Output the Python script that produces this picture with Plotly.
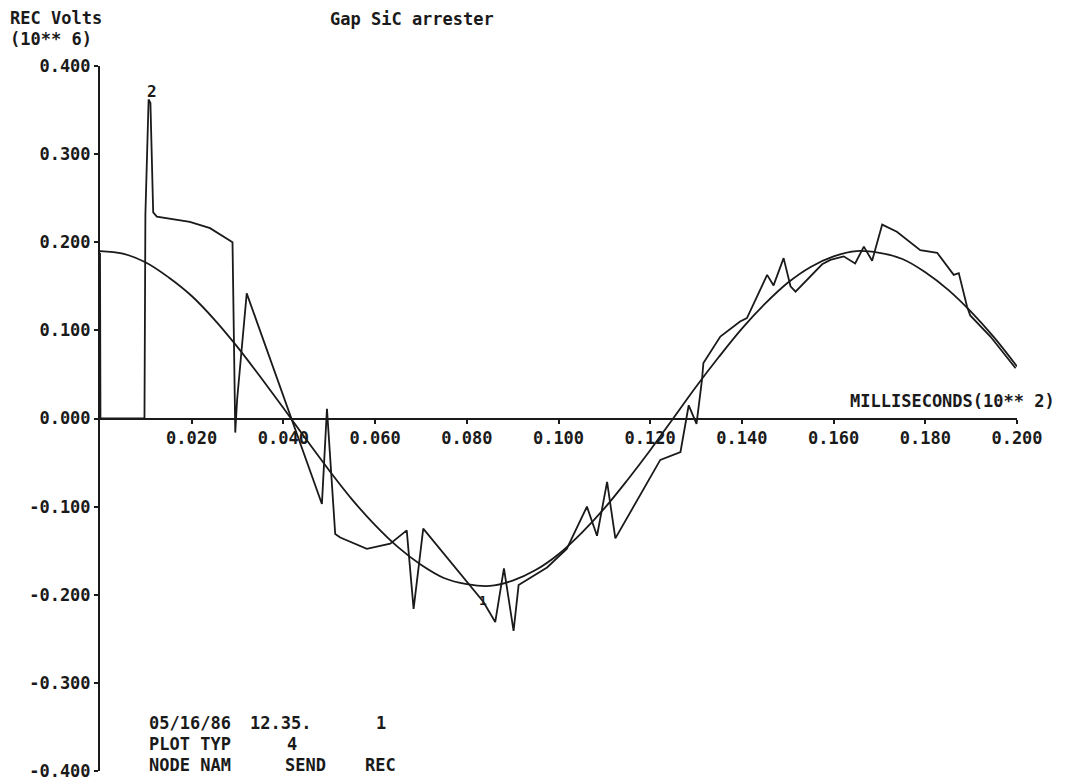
import plotly.graph_objects as go

# ---- data (time in ms x 10^2, volts x 10^6) ----
t_smooth = [0.000, 0.005, 0.010, 0.015, 0.020, 0.025, 0.030, 0.035, 0.040, 0.045,
            0.050, 0.055, 0.060, 0.065, 0.070, 0.075, 0.080, 0.085, 0.090, 0.095,
            0.100, 0.105, 0.110, 0.115, 0.120, 0.125, 0.130, 0.135, 0.140, 0.145,
            0.150, 0.155, 0.160, 0.165, 0.170, 0.175, 0.180, 0.185, 0.190, 0.195,
            0.200]
v_smooth = [0.190, 0.187, 0.177, 0.160, 0.139, 0.112, 0.081, 0.047, 0.012, -0.024,
            -0.059, -0.092, -0.121, -0.146, -0.166, -0.181, -0.188, -0.190, -0.184, -0.172,
            -0.154, -0.130, -0.102, -0.070, -0.036, 0.000, 0.036, 0.070, 0.102, 0.130,
            0.154, 0.172, 0.184, 0.190, 0.188, 0.181, 0.166, 0.146, 0.121, 0.092,
            0.059]

t_rec = [0.0000, 0.0001, 0.0097, 0.0099, 0.0106, 0.0110, 0.0116, 0.0124, 0.0196, 0.0240,
         0.0289, 0.0295, 0.0299, 0.0320, 0.0484, 0.0495, 0.0513, 0.0524, 0.0582, 0.0633,
         0.0669, 0.0684, 0.0705, 0.0836, 0.0862, 0.0881, 0.0902, 0.0913, 0.0975, 0.1018,
         0.1062, 0.1084, 0.1106, 0.1124, 0.1222, 0.1266, 0.1284, 0.1301, 0.1313, 0.1316,
         0.1353, 0.1396, 0.1411, 0.1455, 0.1469, 0.1491, 0.1506, 0.1517, 0.1575, 0.1593,
         0.1622, 0.1647, 0.1666, 0.1684, 0.1706, 0.1738, 0.1789, 0.1826, 0.1862, 0.1873,
         0.1891, 0.1898, 0.1942, 0.1997]
v_rec = [0.188, 0.000, 0.000, 0.231, 0.362, 0.358, 0.234, 0.229, 0.223, 0.216,
         0.200, -0.016, 0.021, 0.142, -0.097, 0.011, -0.131, -0.135, -0.148, -0.142,
         -0.127, -0.216, -0.125, -0.208, -0.231, -0.170, -0.241, -0.189, -0.169, -0.148,
         -0.100, -0.133, -0.072, -0.136, -0.047, -0.038, 0.015, -0.006, 0.044, 0.063,
         0.093, 0.110, 0.114, 0.163, 0.151, 0.182, 0.150, 0.144, 0.175, 0.180,
         0.184, 0.176, 0.195, 0.179, 0.220, 0.212, 0.191, 0.188, 0.163, 0.165,
         0.127, 0.117, 0.093, 0.057]

x_tick_vals = [0.02, 0.04, 0.06, 0.08, 0.10, 0.12, 0.14, 0.16, 0.18, 0.20]
x_tick_text = ["0.020", "0.040", "0.060", "0.080", "0.100", "0.120", "0.140", "0.160", "0.180", "0.200"]
y_tick_vals = [0.4, 0.3, 0.2, 0.1, 0.0, -0.1, -0.2, -0.3, -0.4]
y_tick_text = ["0.400", "0.300", "0.200", "0.100", "0.000", "-0.100", "-0.200", "-0.300", "-0.400"]

# ---- layout geometry (page body has an 8px margin) ----
OFF = 8
W, H = 1065 - OFF, 784 - OFF
L, R, T, B = 92, 48, 58, 13
PW, PH = W - L - R, H - T - B

def px(x):
    return (x - OFF - L) / PW

def py(y):
    return (H - B - (y - OFF)) / PH

INK = "#1a1a1a"
FONT = "DejaVu Sans Mono"

fig = go.Figure()
fig.add_trace(go.Scatter(x=t_smooth, y=v_smooth, mode="lines", line_shape="spline",
                         line=dict(color=INK, width=1.8), hoverinfo="skip"))
fig.add_trace(go.Scatter(x=t_rec, y=v_rec, mode="lines",
                         line=dict(color=INK, width=1.8), hoverinfo="skip"))

fig.update_layout(
    width=W, height=H,
    margin=dict(l=L, r=R, t=T, b=B, pad=0, autoexpand=False),
    paper_bgcolor="white", plot_bgcolor="white",
    showlegend=False,
    font=dict(family=FONT, size=17, color=INK, weight="bold"),
    xaxis=dict(range=[0, 0.2], showgrid=False, zeroline=False, automargin=False,
               showline=True, linecolor=INK, linewidth=2,
               anchor="free", position=0.5,
               tickmode="array", tickvals=x_tick_vals, ticktext=x_tick_text,
               ticks="outside", ticklen=4, tickwidth=1.5, tickcolor=INK,
               tickfont=dict(family=FONT, size=17, color=INK, weight="bold")),
    yaxis=dict(range=[-0.4, 0.4], showgrid=False, zeroline=False, automargin=False,
               showline=True, linecolor=INK, linewidth=2,
               tickmode="array", tickvals=y_tick_vals, ticktext=y_tick_text,
               ticks="outside", ticklen=4, tickwidth=1.5, tickcolor=INK,
               tickfont=dict(family=FONT, size=17, color=INK, weight="bold")),
)

texts = [
    ("REC Volts", 8, 18),
    ("(10** 6)", 8, 39),
    ("Gap SiC arrester", 328, 19),
    ("MILLISECONDS(10** 2)", 848, 401),
    ("05/16/86", 147, 723),
    ("12.35.", 248, 723),
    ("1", 374, 723),
    ("PLOT TYP", 147, 744),
    ("4", 285, 744),
    ("NODE NAM", 147, 765),
    ("SEND", 283, 765),
    ("REC", 363, 765),
]
for s, x, y in texts:
    fig.add_annotation(text=s, x=px(x), y=py(y), xref="paper", yref="paper",
                       xanchor="left", yanchor="middle", showarrow=False,
                       font=dict(family=FONT, size=17, color=INK, weight="bold"))

# curve labels
fig.add_annotation(text="2", x=px(152), y=py(91), xref="paper", yref="paper",
                   xanchor="center", yanchor="middle", showarrow=False,
                   font=dict(family=FONT, size=16, color=INK, weight="bold"))
fig.add_annotation(text="1", x=px(483), y=py(600), xref="paper", yref="paper",
                   xanchor="center", yanchor="middle", showarrow=False,
                   font=dict(family=FONT, size=13, color=INK, weight="bold"))

fig.write_html("out.html")
